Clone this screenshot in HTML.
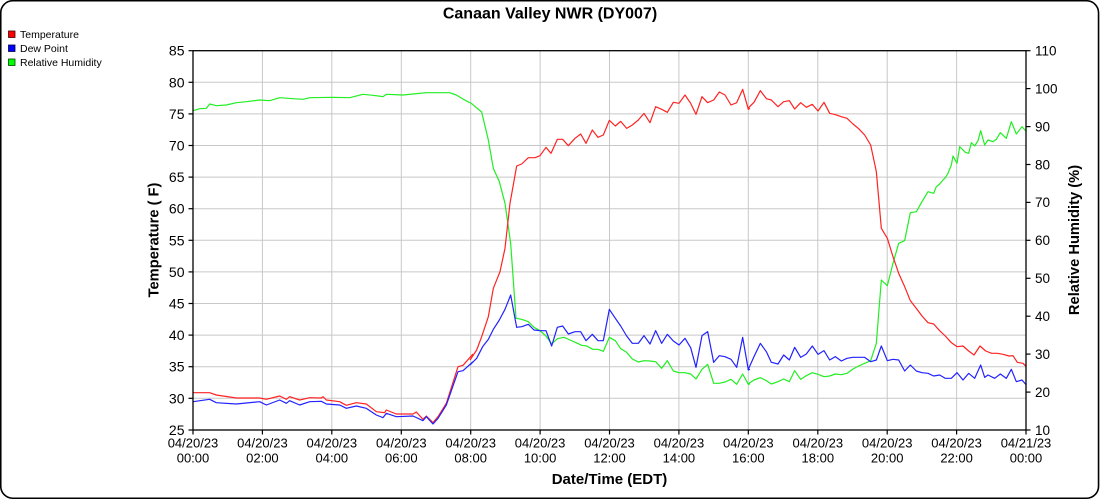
<!DOCTYPE html>
<html>
<head>
<meta charset="utf-8">
<style>
  html, body { margin: 0; padding: 0; background: #fff; }
  body { width: 1100px; height: 500px; overflow: hidden; }
  svg { display: block; font-family: "Liberation Sans", Arial, sans-serif; }
</style>
</head>
<body>
<svg width="1100" height="500" viewBox="0 0 1100 500" xmlns="http://www.w3.org/2000/svg">
  <rect x="0" y="0" width="1100" height="500" fill="#fff"/>
  <!-- outer rounded border -->
  <rect x="0.75" y="0.75" width="1097.8" height="497.5" rx="12" ry="12" fill="none" stroke="#000" stroke-width="1.6"/>

  <!-- title -->
  <text x="550" y="18.5" font-size="16" font-weight="bold" text-anchor="middle" fill="#000">Canaan Valley NWR (DY007)</text>

  <!-- legend -->
  <rect x="8.5" y="31" width="6.5" height="6.5" fill="#ff0000" stroke="#400" stroke-width="0.8"/>
  <text x="20" y="38" font-size="10.5" fill="#000">Temperature</text>
  <rect x="8.5" y="45" width="6.5" height="6.5" fill="#0000ff" stroke="#004" stroke-width="0.8"/>
  <text x="20" y="52" font-size="10.5" fill="#000">Dew Point</text>
  <rect x="8.5" y="59" width="6.5" height="6.5" fill="#00ff00" stroke="#040" stroke-width="0.8"/>
  <text x="20" y="66" font-size="10.5" fill="#000">Relative Humidity</text>

  <!-- grid -->
  <g stroke="#c8c8c8" stroke-width="1">
    <line x1="193" y1="82.3" x2="1026" y2="82.3"/>
    <line x1="193" y1="113.9" x2="1026" y2="113.9"/>
    <line x1="193" y1="145.5" x2="1026" y2="145.5"/>
    <line x1="193" y1="177.1" x2="1026" y2="177.1"/>
    <line x1="193" y1="208.7" x2="1026" y2="208.7"/>
    <line x1="193" y1="240.3" x2="1026" y2="240.3"/>
    <line x1="193" y1="271.9" x2="1026" y2="271.9"/>
    <line x1="193" y1="303.5" x2="1026" y2="303.5"/>
    <line x1="193" y1="335.1" x2="1026" y2="335.1"/>
    <line x1="193" y1="366.7" x2="1026" y2="366.7"/>
    <line x1="193" y1="398.3" x2="1026" y2="398.3"/>
    <line x1="262.4" y1="50.7" x2="262.4" y2="430"/>
    <line x1="331.8" y1="50.7" x2="331.8" y2="430"/>
    <line x1="401.3" y1="50.7" x2="401.3" y2="430"/>
    <line x1="470.7" y1="50.7" x2="470.7" y2="430"/>
    <line x1="540.1" y1="50.7" x2="540.1" y2="430"/>
    <line x1="609.5" y1="50.7" x2="609.5" y2="430"/>
    <line x1="678.9" y1="50.7" x2="678.9" y2="430"/>
    <line x1="748.3" y1="50.7" x2="748.3" y2="430"/>
    <line x1="817.8" y1="50.7" x2="817.8" y2="430"/>
    <line x1="887.2" y1="50.7" x2="887.2" y2="430"/>
    <line x1="956.6" y1="50.7" x2="956.6" y2="430"/>
  </g>

  <!-- series -->
  <g fill="none" stroke-width="1.2" stroke-linejoin="round">
    <!-- segment 1 -->
    <g transform="translate(193,50) scale(0.333333)">
      <polyline vector-effect="non-scaling-stroke" stroke="#22ee22" points="0,182 20,176 40,175 50,162 70,167 100,165 130,158 160,155 200,150 230,152 260,143 300,146 330,148 350,143 420,142 470,143 510,133 540,136 570,140 580,133 630,135 660,132 700,128 740,128 770,128 790,135 810,147 830,158"/>
      <polyline vector-effect="non-scaling-stroke" stroke="#ff2222" points="0,1028 50,1028 70,1035 130,1044 200,1044 220,1048 260,1038 280,1048 290,1040 320,1050 350,1043 385,1044 390,1040 400,1050 440,1055 460,1066 490,1058 520,1062 550,1085 575,1088 580,1080 610,1092 660,1092 670,1086 690,1108 700,1098 720,1118 735,1100 760,1060 795,950 810,946 840,912"/>
      <polyline vector-effect="non-scaling-stroke" stroke="#2222ff" points="0,1055 50,1048 70,1058 130,1062 200,1055 220,1065 260,1050 280,1060 290,1052 320,1065 350,1055 385,1054 400,1062 440,1065 460,1075 490,1068 520,1075 550,1095 570,1103 580,1090 610,1100 660,1098 690,1112 700,1100 720,1122 735,1105 760,1065 795,965 810,962 840,935"/>
    </g>
    <!-- segment 2 -->
    <g transform="translate(470,50) scale(0.333333)">
      <polyline vector-effect="non-scaling-stroke" stroke="#22ee22" points="0,157 35,186 55,270 70,355 88,395 105,460 122,580 138,805 155,808 175,815 192,832 210,842 228,858 245,882 262,866 282,862 300,870 318,878 335,886 350,888 368,898 384,898 400,904 418,862 436,872 452,896 470,907 487,927 505,936 522,932 540,933 557,935 575,955 592,932 610,963 627,968 645,968 662,972 678,987 696,958 713,943 731,1000 748,1000 765,996 783,988 800,1003 818,972 835,1003 840,1002"/>
      <polyline vector-effect="non-scaling-stroke" stroke="#ff2222" points="0,930 20,900 35,860 55,800 70,715 90,665 105,595 120,460 140,348 155,342 175,323 195,323 210,317 228,292 243,310 262,268 278,268 295,287 315,265 332,252 348,280 367,240 384,262 400,255 418,211 436,228 452,214 470,235 487,225 505,210 522,190 540,218 557,170 575,178 592,187 610,157 627,160 645,135 662,160 678,193 696,140 713,158 731,150 748,126 765,135 783,165 800,158 818,118 835,178 840,175"/>
      <polyline vector-effect="non-scaling-stroke" stroke="#2222ff" points="0,945 20,925 38,890 55,868 70,838 88,810 105,778 122,735 140,832 155,830 175,823 192,840 210,842 228,842 245,888 262,832 278,828 295,852 315,845 332,845 348,872 367,853 384,872 400,872 418,778 436,805 452,828 470,858 487,880 505,880 522,857 540,882 557,842 575,880 592,853 610,873 627,885 645,865 662,893 678,952 696,857 713,845 731,937 748,917 765,920 783,928 800,952 818,862 835,960 840,958"/>
    </g>
    <!-- segment 3 -->
    <g transform="translate(748,50) scale(0.333333)">
      <polyline vector-effect="non-scaling-stroke" stroke="#22ee22" points="0,1002 18,990 37,983 55,992 70,1002 90,995 107,987 124,995 140,962 158,988 175,977 193,968 210,973 228,980 245,978 262,972 280,974 297,970 315,957 332,948 350,940 368,932 385,880 400,690 418,707 435,640 452,580 470,572 487,488 505,485 522,455 540,425 557,430 565,410 575,402 585,390 592,383 600,370 610,345 615,318 627,340 635,290 652,307 662,310 670,278 680,288 690,272 698,242 710,285 720,270 735,275 745,268 757,248 775,265 790,215 805,252 822,230 835,245"/>
      <polyline vector-effect="non-scaling-stroke" stroke="#ff2222" points="0,175 18,157 37,122 55,146 70,150 90,170 107,155 124,152 140,177 158,158 175,172 193,163 210,183 228,157 245,190 262,194 280,200 297,205 315,222 332,236 350,255 368,285 385,365 400,535 418,565 435,620 452,670 470,710 487,752 505,775 522,798 540,818 557,822 575,842 592,858 610,878 627,890 645,888 662,903 678,915 696,888 713,903 731,910 748,910 765,913 783,918 795,917 808,937 825,940 835,950"/>
      <polyline vector-effect="non-scaling-stroke" stroke="#2222ff" points="0,960 18,920 37,880 55,905 70,937 90,942 107,915 124,930 140,892 158,922 175,912 193,888 210,913 228,902 245,930 262,920 280,933 297,925 315,922 332,922 350,922 368,935 385,930 400,888 418,932 435,928 452,930 470,963 487,945 505,963 522,968 540,970 557,978 575,975 592,985 610,985 627,968 645,990 662,970 680,985 698,945 710,982 720,975 740,985 757,972 775,985 790,958 805,995 822,990 835,1005"/>
    </g>
  </g>

  <!-- plot frame -->
  <rect x="193" y="50.7" width="833" height="379.3" fill="none" stroke="#000" stroke-width="1.3"/>

  <!-- left ticks -->
  <g stroke="#000" stroke-width="1.2">
    <line x1="188.5" y1="50.7" x2="193" y2="50.7"/>
    <line x1="188.5" y1="82.3" x2="193" y2="82.3"/>
    <line x1="188.5" y1="113.9" x2="193" y2="113.9"/>
    <line x1="188.5" y1="145.5" x2="193" y2="145.5"/>
    <line x1="188.5" y1="177.1" x2="193" y2="177.1"/>
    <line x1="188.5" y1="208.7" x2="193" y2="208.7"/>
    <line x1="188.5" y1="240.3" x2="193" y2="240.3"/>
    <line x1="188.5" y1="271.9" x2="193" y2="271.9"/>
    <line x1="188.5" y1="303.5" x2="193" y2="303.5"/>
    <line x1="188.5" y1="335.1" x2="193" y2="335.1"/>
    <line x1="188.5" y1="366.7" x2="193" y2="366.7"/>
    <line x1="188.5" y1="398.3" x2="193" y2="398.3"/>
    <line x1="188.5" y1="430" x2="193" y2="430"/>
    <!-- right ticks -->
    <line x1="1026" y1="50.7" x2="1030.5" y2="50.7"/>
    <line x1="1026" y1="88.6" x2="1030.5" y2="88.6"/>
    <line x1="1026" y1="126.6" x2="1030.5" y2="126.6"/>
    <line x1="1026" y1="164.5" x2="1030.5" y2="164.5"/>
    <line x1="1026" y1="202.4" x2="1030.5" y2="202.4"/>
    <line x1="1026" y1="240.3" x2="1030.5" y2="240.3"/>
    <line x1="1026" y1="278.3" x2="1030.5" y2="278.3"/>
    <line x1="1026" y1="316.2" x2="1030.5" y2="316.2"/>
    <line x1="1026" y1="354.1" x2="1030.5" y2="354.1"/>
    <line x1="1026" y1="392.1" x2="1030.5" y2="392.1"/>
    <line x1="1026" y1="430" x2="1030.5" y2="430"/>
    <!-- bottom ticks -->
    <line x1="193" y1="430" x2="193" y2="434.5"/>
    <line x1="262.4" y1="430" x2="262.4" y2="434.5"/>
    <line x1="331.8" y1="430" x2="331.8" y2="434.5"/>
    <line x1="401.3" y1="430" x2="401.3" y2="434.5"/>
    <line x1="470.7" y1="430" x2="470.7" y2="434.5"/>
    <line x1="540.1" y1="430" x2="540.1" y2="434.5"/>
    <line x1="609.5" y1="430" x2="609.5" y2="434.5"/>
    <line x1="678.9" y1="430" x2="678.9" y2="434.5"/>
    <line x1="748.3" y1="430" x2="748.3" y2="434.5"/>
    <line x1="817.8" y1="430" x2="817.8" y2="434.5"/>
    <line x1="887.2" y1="430" x2="887.2" y2="434.5"/>
    <line x1="956.6" y1="430" x2="956.6" y2="434.5"/>
    <line x1="1026" y1="430" x2="1026" y2="434.5"/>
  </g>

  <!-- left tick labels -->
  <g font-size="14" text-anchor="end" fill="#000">
    <text x="184.5" y="55.7">85</text>
    <text x="184.5" y="87.3">80</text>
    <text x="184.5" y="118.9">75</text>
    <text x="184.5" y="150.5">70</text>
    <text x="184.5" y="182.1">65</text>
    <text x="184.5" y="213.7">60</text>
    <text x="184.5" y="245.3">55</text>
    <text x="184.5" y="276.9">50</text>
    <text x="184.5" y="308.5">45</text>
    <text x="184.5" y="340.1">40</text>
    <text x="184.5" y="371.7">35</text>
    <text x="184.5" y="403.3">30</text>
    <text x="184.5" y="435">25</text>
  </g>

  <!-- right tick labels -->
  <g font-size="13.5" text-anchor="start" fill="#000">
    <text x="1035" y="55.5">110</text>
    <text x="1035" y="93.4">100</text>
    <text x="1035" y="131.4">90</text>
    <text x="1035" y="169.3">80</text>
    <text x="1035" y="207.2">70</text>
    <text x="1035" y="245.1">60</text>
    <text x="1035" y="283.1">50</text>
    <text x="1035" y="321">40</text>
    <text x="1035" y="358.9">30</text>
    <text x="1035" y="396.9">20</text>
    <text x="1035" y="434.8">10</text>
  </g>

  <!-- x tick labels -->
  <g font-size="13" text-anchor="middle" fill="#000">
    <text x="193" y="447.7">04/20/23</text><text x="193" y="462.7">00:00</text>
    <text x="262.4" y="447.7">04/20/23</text><text x="262.4" y="462.7">02:00</text>
    <text x="331.8" y="447.7">04/20/23</text><text x="331.8" y="462.7">04:00</text>
    <text x="401.3" y="447.7">04/20/23</text><text x="401.3" y="462.7">06:00</text>
    <text x="470.7" y="447.7">04/20/23</text><text x="470.7" y="462.7">08:00</text>
    <text x="540.1" y="447.7">04/20/23</text><text x="540.1" y="462.7">10:00</text>
    <text x="609.5" y="447.7">04/20/23</text><text x="609.5" y="462.7">12:00</text>
    <text x="678.9" y="447.7">04/20/23</text><text x="678.9" y="462.7">14:00</text>
    <text x="748.3" y="447.7">04/20/23</text><text x="748.3" y="462.7">16:00</text>
    <text x="817.8" y="447.7">04/20/23</text><text x="817.8" y="462.7">18:00</text>
    <text x="887.2" y="447.7">04/20/23</text><text x="887.2" y="462.7">20:00</text>
    <text x="956.6" y="447.7">04/20/23</text><text x="956.6" y="462.7">22:00</text>
    <text x="1026" y="447.7">04/21/23</text><text x="1026" y="462.7">00:00</text>
  </g>

  <!-- axis titles -->
  <text x="609.5" y="484" font-size="15" font-weight="bold" text-anchor="middle" fill="#000">Date/Time (EDT)</text>
  <text transform="translate(158.5,240) rotate(-90)" font-size="14.7" font-weight="bold" text-anchor="middle" fill="#000">Temperature ( F)</text>
  <text transform="translate(1079,240) rotate(-90)" font-size="14.7" font-weight="bold" text-anchor="middle" fill="#000">Relative Humidity (%)</text>
</svg>
</body>
</html>
